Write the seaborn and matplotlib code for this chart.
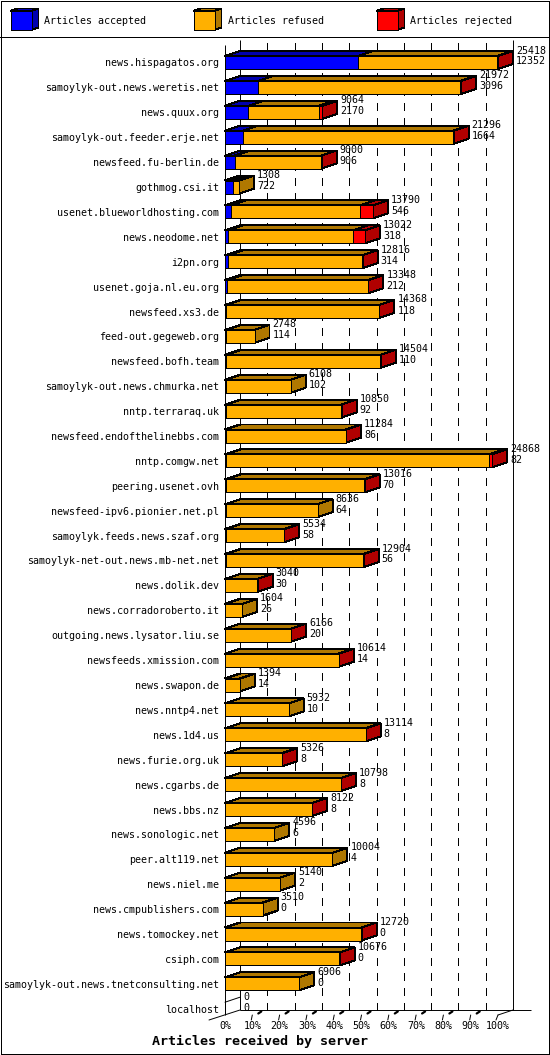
import matplotlib
matplotlib.use("Agg")
import matplotlib.pyplot as plt
from matplotlib.patches import Polygon, Rectangle
from matplotlib.transforms import Affine2D
import numpy as np
import pandas as pd
import seaborn as sns

servers = ["news.hispagatos.org", "samoylyk-out.news.weretis.net", "news.quux.org",
           "samoylyk-out.feeder.erje.net", "newsfeed.fu-berlin.de", "gothmog.csi.it",
           "usenet.blueworldhosting.com", "news.neodome.net", "i2pn.org",
           "usenet.goja.nl.eu.org", "newsfeed.xs3.de", "feed-out.gegeweb.org",
           "newsfeed.bofh.team", "samoylyk-out.news.chmurka.net", "nntp.terraraq.uk",
           "newsfeed.endofthelinebbs.com", "nntp.comgw.net", "peering.usenet.ovh",
           "newsfeed-ipv6.pionier.net.pl", "samoylyk.feeds.news.szaf.org",
           "samoylyk-net-out.news.mb-net.net", "news.dolik.dev", "news.corradoroberto.it",
           "outgoing.news.lysator.liu.se", "newsfeeds.xmission.com", "news.swapon.de",
           "news.nntp4.net", "news.1d4.us", "news.furie.org.uk", "news.cgarbs.de",
           "news.bbs.nz", "news.sonologic.net", "peer.alt119.net", "news.niel.me",
           "news.cmpublishers.com", "news.tomockey.net", "csiph.com",
           "samoylyk-out.news.tnetconsulting.net", "localhost"]
total = [25418, 21972, 9064, 21296, 9000, 1308, 13790, 13022, 12816, 13348, 14368, 2748,
         14504, 6108, 10850, 11284, 24868, 13016, 8636, 5534, 12904, 3040, 1604, 6166,
         10614, 1394, 5932, 13114, 5326, 10798, 8122, 4596, 10004, 5140, 3510, 12720,
         10676, 6906, 0]
accepted = [12352, 3096, 2170, 1664, 906, 722, 546, 318, 314, 212, 118, 114, 110, 102, 92,
            86, 82, 70, 64, 58, 56, 30, 26, 20, 14, 14, 10, 8, 8, 8, 8, 6, 4, 2, 0, 0, 0,
            0, 0]
# rejected has no printed number, estimated from the width of the red part
rejected = [60, 60, 340, 40, 40, 0, 1210, 1090, 30, 30, 30, 0, 30, 0, 30, 30, 300, 30, 0,
            30, 30, 30, 0, 30, 30, 0, 0, 30, 30, 30, 30, 0, 0, 0, 0, 30, 30, 0, 0]
pct_labels = ["0%", "10%", "20%", "30%", "40%", "50%", "60%", "70%", "80%", "90%", "100%"]
legend_names = ["Articles accepted", "Articles refused", "Articles rejected"]

BLUE, BLUE_D = "#0000ff", "#0000b0"
ORANGE, ORANGE_D = "#ffb000", "#b07800"
RED, RED_D = "#ff0000", "#b00000"
LW = 0.7
FS = 7.2

sns.set_theme(style="white")
plt.rcParams["font.family"] = ["DejaVu Sans Mono"]

df = pd.DataFrame({"server": servers, "total": total, "accepted": accepted, "rejected": rejected})
df["kept"] = df["total"] - df["rejected"]
scale_max = df["total"].max()

fig = plt.figure(figsize=(5.5, 10.55), dpi=100)
px = Affine2D().scale(1 / 550, -1 / 1055).translate(0, 1) + fig.transFigure
ax = fig.add_axes([225 / 550, 1 - 1015 / 1055, 273 / 550, 978 / 1055])
ax.patch.set_alpha(0)


def row_y(p):
    return (p - 62.5) / 24.9


# layered so that each bar shows the stacked part that is left
opts = dict(data=df, y="server", orient="h", width=13 / 24.9, saturation=1, ax=ax,
            edgecolor="black", linewidth=LW, antialiased=False, zorder=3)
sns.barplot(x="total", color=RED, **opts)
sns.barplot(x="kept", color=ORANGE, **opts)
sns.barplot(x="accepted", color=BLUE, **opts)

ax.set_xlim(0, scale_max)
ax.set_ylim(row_y(1015), row_y(37))
dx = 15 / 273 * scale_max
dy = 5 / 24.9
half = 13 / 24.9 / 2


def add_poly(pts, color):
    ax.add_patch(Polygon(pts, closed=True, facecolor=color, edgecolor="black", linewidth=LW,
                         antialiased=False, clip_on=False, zorder=2.5))


for i, row in df.iterrows():
    t = i - half
    b = i + half
    end = row["total"]
    if end > 0:
        # top faces, one per part
        edges = [0, row["accepted"], row["kept"], end]
        for left, right, col in zip(edges[:-1], edges[1:], [BLUE_D, ORANGE_D, RED_D]):
            if right > left:
                add_poly([(left, t), (right, t), (right + dx, t - dy), (left + dx, t - dy)], col)
        # side face
        side = RED_D if row["rejected"] > 0 else ORANGE_D
        add_poly([(end, t), (end + dx, t - dy), (end + dx, b - dy), (end, b)], side)
    else:
        ax.plot([0, dx], [t, t - dy], color="black", linewidth=LW, zorder=4, clip_on=False)
    # numbers right of the bar
    tx = end + dx + 3 / 273 * scale_max
    ax.text(tx, i - 12 / 24.9, str(row["total"]), fontsize=FS, color="black", va="center",
            ha="left", zorder=5, clip_on=False)
    ax.text(tx, i - 1 / 24.9, str(row["accepted"]), fontsize=FS, color="black", va="center",
            ha="left", zorder=5, clip_on=False)

# dashed grid on the back wall
steps = np.arange(11) / 10 * scale_max
ax.vlines(steps[1:-1] + dx, row_y(1010), row_y(40), color="black", linewidth=LW,
          linestyles=(0, (8, 8)), zorder=1, antialiased=False, clip_on=False)
# walls and floor
ax.vlines([0], row_y(1015), row_y(45), color="black", linewidth=LW, zorder=4, clip_on=False)
ax.vlines([dx, scale_max + dx], row_y(1010), row_y(40), color="black", linewidth=LW, zorder=1,
          clip_on=False)
ax.hlines([row_y(1010)], dx, scale_max + dx + 18 / 273 * scale_max, color="black", linewidth=LW,
          zorder=1, clip_on=False)
ax.plot([-16 / 273 * scale_max, dx], [row_y(1020), row_y(1010)], color="black", linewidth=LW,
        zorder=4, clip_on=False)
ax.plot([scale_max, scale_max + dx], [row_y(1015), row_y(1010)], color="black", linewidth=LW,
        zorder=4, clip_on=False)
ax.plot([scale_max - 2 / 273 * scale_max, scale_max], [row_y(1020), row_y(1015)], color="black",
        linewidth=LW, zorder=4, clip_on=False)
for s in steps[1:-1]:
    ax.plot([s - 1 / 273 * scale_max, s], [row_y(1020), row_y(1015)], color="black",
            linewidth=LW, zorder=4, clip_on=False)
    ax.plot([s + 6 / 273 * scale_max, s + 9 / 273 * scale_max], [row_y(1013.5), row_y(1011.5)],
            color="black", linewidth=1.6, zorder=4, clip_on=False)

sns.despine(ax=ax, left=True, bottom=True)
ax.set_xlabel("")
ax.set_ylabel("")
ax.set_xticks(steps)
ax.set_xticklabels(pct_labels, fontsize=FS, color="black")
ax.tick_params(axis="x", length=0, pad=4.2)
ax.tick_params(axis="y", length=0, pad=4.3, labelsize=FS, labelcolor="black")

# frame, legend strip and title live in pixel coordinates
fig.add_artist(Rectangle((0.5, 0.5), 548, 1053, transform=px, fill=False, edgecolor="black",
                         linewidth=0.72, antialiased=False))
fig.add_artist(plt.Line2D([0, 550], [36.5, 36.5], transform=px, color="black", linewidth=0.72,
                          antialiased=False))
for x0, name, light, dark in zip([10.5, 193.5, 376.5], legend_names, [BLUE, ORANGE, RED],
                                 [BLUE_D, ORANGE_D, RED_D]):
    w, h = 21, 19
    fig.add_artist(Polygon([(x0, 11), (x0 + w, 11), (x0 + w + 7, 8.5), (x0 + 7, 8.5)], transform=px,
                           facecolor=dark, edgecolor="black", linewidth=LW, antialiased=False))
    fig.add_artist(Polygon([(x0 + w, 11), (x0 + w + 7, 8.5), (x0 + w + 7, 27.5), (x0 + w, 30)],
                           transform=px, facecolor=dark, edgecolor="black", linewidth=LW,
                           antialiased=False))
    fig.add_artist(Rectangle((x0, 11), w, h, transform=px, facecolor=light, edgecolor="black",
                             linewidth=LW, antialiased=False))
    fig.text(x0 + w + 13, 21, name, transform=px, fontsize=FS, color="black", va="center", ha="left")
fig.text(259.5, 1041.5, "Articles received by server", transform=px, fontsize=9.6, fontweight="bold",
         color="black", va="center", ha="center")

fig.savefig("out.png", dpi=100, facecolor="white")
